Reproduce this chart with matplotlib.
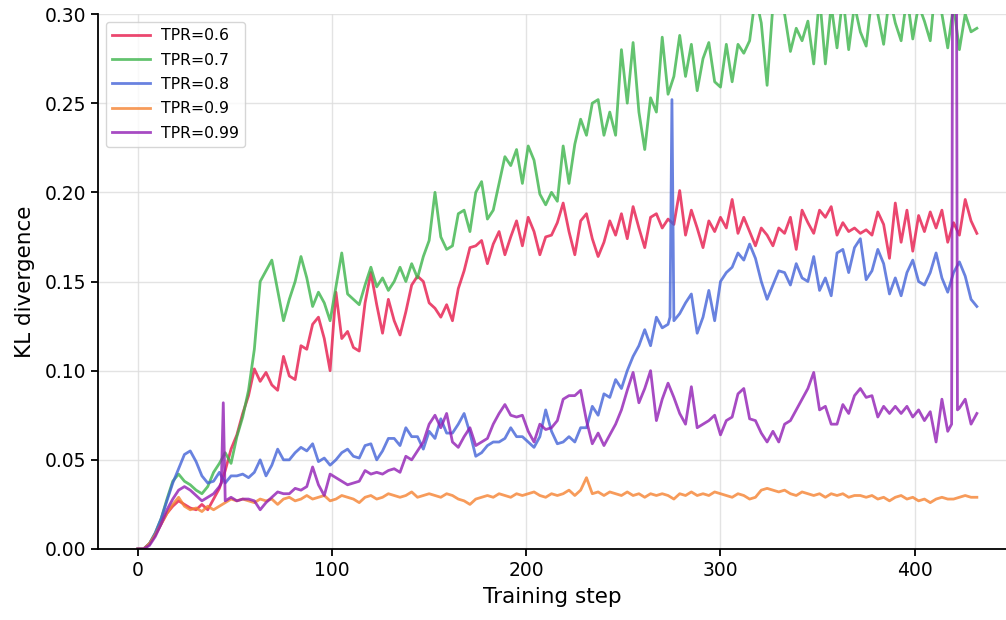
import numpy as np
import matplotlib
matplotlib.use("Agg")
import matplotlib.pyplot as plt

# training steps (every 3rd step)
steps = np.arange(0, 433, 3)

# KL divergence per TPR, in units of 1e-3, one row per 30 steps
kl_06 = np.array([
    0, 0, 3, 8, 14, 20, 24, 27, 25, 23,
    22, 25, 22, 28, 34, 44, 56, 64, 76, 86,
    101, 94, 99, 92, 89, 108, 97, 95, 114, 112,
    126, 130, 118, 100, 144, 118, 122, 113, 111, 138,
    155, 137, 121, 140, 128, 120, 133, 148, 153, 150,
    138, 135, 130, 137, 128, 146, 156, 169, 170, 173,
    160, 171, 178, 165, 175, 184, 170, 186, 178, 165,
    175, 176, 183, 194, 178, 165, 184, 188, 174, 164,
    172, 184, 176, 188, 174, 192, 180, 169, 186, 188,
    180, 185, 182, 201, 176, 190, 180, 169, 184, 178,
    186, 180, 196, 177, 186, 178, 170, 180, 176, 170,
    180, 177, 186, 168, 190, 183, 177, 190, 186, 192,
    176, 183, 178, 180, 177, 179, 176, 189, 182, 163,
    194, 172, 190, 167, 187, 178, 189, 180, 190, 172,
    183, 176, 196, 184, 177,
]) / 1000

kl_07 = np.array([
    0, 0, 3, 9, 17, 28, 38, 42, 38, 36,
    33, 31, 35, 43, 48, 54, 48, 63, 74, 89,
    112, 150, 156, 162, 145, 128, 140, 150, 164, 152,
    136, 144, 138, 128, 147, 166, 143, 140, 137, 148,
    158, 147, 152, 145, 150, 158, 150, 160, 152, 164,
    173, 200, 175, 168, 170, 188, 190, 178, 200, 206,
    185, 190, 205, 220, 215, 224, 205, 226, 218, 199,
    193, 200, 195, 226, 205, 227, 241, 232, 250, 252,
    232, 245, 232, 280, 250, 284, 245, 224, 253, 245,
    287, 255, 265, 288, 265, 283, 257, 275, 284, 262,
    259, 283, 262, 283, 278, 285, 310, 295, 260, 305,
    310, 300, 279, 292, 285, 296, 272, 310, 272, 305,
    281, 310, 280, 305, 290, 282, 310, 300, 283, 310,
    295, 285, 310, 286, 305, 296, 285, 320, 300, 281,
    305, 280, 300, 290, 292,
]) / 1000

kl_08 = np.array([
    0, 0, 3, 9, 17, 27, 37, 45, 53, 55,
    49, 41, 37, 38, 43, 37, 41, 41, 42, 40,
    43, 50, 41, 47, 56, 50, 50, 54, 57, 55,
    59, 49, 51, 47, 50, 54, 56, 52, 51, 58,
    59, 50, 55, 62, 62, 58, 68, 63, 63, 56,
    66, 62, 73, 65, 65, 70, 76, 65, 52, 54,
    58, 60, 60, 62, 68, 63, 63, 60, 57, 63,
    78, 66, 59, 60, 63, 60, 68, 68, 80, 75,
    87, 85, 95, 90, 100, 108, 114, 123, 114, 130,
    124, 126, 128, 132, 138, 143, 121, 130, 145, 128,
    150, 155, 158, 166, 162, 171, 163, 150, 140, 148,
    156, 155, 148, 160, 152, 150, 164, 145, 152, 142,
    166, 168, 155, 169, 174, 151, 156, 168, 160, 143,
    152, 142, 155, 162, 150, 148, 155, 166, 152, 144,
    155, 161, 153, 140, 136,
]) / 1000

kl_09 = np.array([
    0, 0, 3, 8, 14, 20, 25, 29, 24, 22,
    23, 21, 24, 22, 24, 26, 28, 27, 28, 27,
    26, 28, 27, 28, 25, 28, 29, 27, 28, 30,
    28, 29, 30, 27, 28, 30, 29, 28, 26, 29,
    30, 28, 29, 31, 30, 29, 30, 32, 29, 30,
    31, 30, 29, 31, 30, 28, 27, 25, 28, 29,
    30, 29, 31, 30, 29, 31, 30, 31, 32, 30,
    29, 31, 30, 31, 33, 30, 33, 40, 31, 32,
    30, 32, 31, 30, 32, 30, 31, 29, 31, 30,
    31, 30, 28, 31, 30, 32, 30, 31, 30, 32,
    31, 30, 29, 31, 30, 28, 29, 33, 34, 33,
    32, 33, 31, 30, 32, 31, 30, 31, 29, 31,
    30, 31, 29, 30, 30, 29, 30, 28, 29, 27,
    29, 30, 28, 29, 27, 28, 26, 28, 29, 28,
    28, 29, 30, 29, 29,
]) / 1000

kl_099 = np.array([
    0, 0, 2, 7, 14, 22, 28, 33, 35, 33,
    30, 27, 29, 31, 35, 27, 29, 27, 28, 28,
    27, 22, 26, 29, 32, 31, 31, 34, 33, 35,
    46, 36, 30, 42, 40, 38, 36, 37, 38, 44,
    42, 43, 42, 44, 45, 43, 52, 50, 55, 60,
    70, 75, 68, 76, 60, 57, 63, 68, 58, 60,
    62, 70, 76, 81, 75, 74, 75, 66, 60, 70,
    67, 68, 72, 84, 86, 86, 89, 72, 59, 65,
    58, 64, 70, 78, 89, 99, 82, 90, 100, 72,
    84, 93, 85, 76, 70, 91, 68, 70, 72, 75,
    64, 72, 74, 87, 90, 73, 72, 65, 60, 66,
    60, 70, 72, 78, 84, 90, 99, 78, 80, 70,
    70, 81, 76, 86, 90, 85, 86, 74, 80, 76,
    80, 76, 80, 74, 78, 72, 77, 60, 84, 66,
    600, 79, 84, 70, 76,
]) / 1000

# single-step spikes that fall between the sampled steps
spike_steps_08 = [274, 275]
spike_vals_08 = [0.130, 0.252]
spike_steps_099 = [43, 44, 419, 421, 422]
spike_vals_099 = [0.037, 0.082, 0.070, 0.600, 0.078]

labels = ["TPR=0.6", "TPR=0.7", "TPR=0.8", "TPR=0.9", "TPR=0.99"]
colors = ["#e6194b", "#3cb44b", "#4363d8", "#f58231", "#911eb4"]


def merge(vals, extra_steps=(), extra_vals=()):
    s = np.concatenate([steps, np.asarray(extra_steps, dtype=float)])
    v = np.concatenate([vals, np.asarray(extra_vals, dtype=float)])
    order = np.argsort(s, kind="stable")
    return s[order], v[order]


series = [
    merge(kl_06),
    merge(kl_07),
    merge(kl_08, spike_steps_08, spike_vals_08),
    merge(kl_09),
    merge(kl_099, spike_steps_099, spike_vals_099),
]

fig = plt.figure(figsize=(10.06, 6.2), dpi=100)
ax = fig.add_axes([98 / 1006, 1 - 549 / 620, 1 - 98 / 1006, (549 - 14) / 620])

for (x, y), lab, col in zip(series, labels, colors):
    ax.plot(x, y, color=col, alpha=0.8, lw=2.0, label=lab)

ax.set_xlim(-20.5, 447)
ax.set_ylim(0, 0.30)
ax.set_xticks([0, 100, 200, 300, 400])
ax.set_yticks([0.0, 0.05, 0.10, 0.15, 0.20, 0.25, 0.30])
ax.yaxis.set_major_formatter(matplotlib.ticker.FormatStrFormatter("%.2f"))
ax.grid(True, color="#dddddd", lw=1.0, alpha=0.8)
ax.set_axisbelow(True)
for side in ["top", "right"]:
    ax.spines[side].set_visible(False)
ax.spines["left"].set_linewidth(1.3)
ax.spines["bottom"].set_linewidth(1.3)
ax.tick_params(labelsize=13.5, width=1.3, length=5)
ax.set_xlabel("Training step", fontsize=15.5, labelpad=5)
ax.set_ylabel("KL divergence", fontsize=15.5, labelpad=7)
ax.legend(loc="upper left", fontsize=11.3, handlelength=2.4,
          handletextpad=0.7, labelspacing=0.6, borderaxespad=0.5,
          bbox_to_anchor=(0, 1))

fig.savefig("out.png", dpi=100)
